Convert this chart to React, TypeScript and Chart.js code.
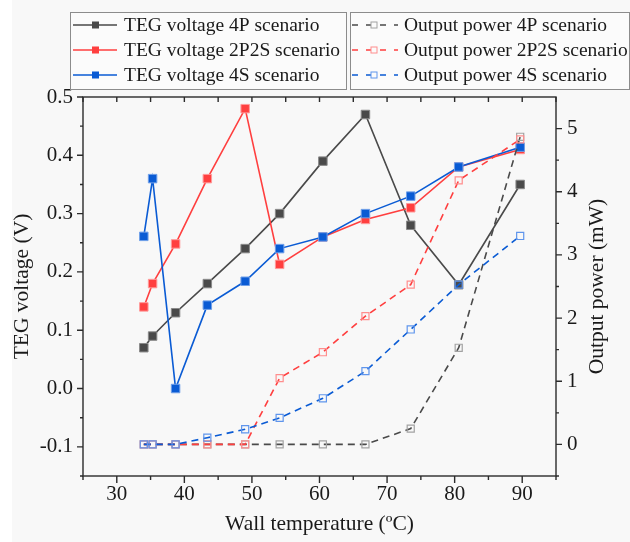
import React, { useEffect, useRef } from "react";
import { Chart, registerables } from "chart.js";

Chart.register(...registerables);

// ---- data ----
const temperatures = [34, 35.3, 38.7, 43.4, 49, 54.1, 60.5, 66.8, 73.5, 80.6, 89.7];
const voltage4P = [0.07, 0.09, 0.13, 0.18, 0.24, 0.3, 0.39, 0.47, 0.28, 0.178, 0.35];
const voltage2P2S = [0.14, 0.18, 0.248, 0.36, 0.48, 0.213, 0.26, 0.29, 0.31, 0.38, 0.41];
const voltage4S = [0.261, 0.36, 0.0, 0.143, 0.184, 0.24, 0.26, 0.3, 0.33, 0.38, 0.414];
const power4P = [0, 0, 0, 0, 0, 0, 0, 0, 0.25, 1.53, 4.87];
const power2P2S = [0, 0, 0, 0, 0, 1.05, 1.46, 2.03, 2.53, 4.18, 4.83];
const power4S = [0, 0, 0, 0.106, 0.24, 0.42, 0.73, 1.16, 1.82, 2.53, 3.3];

const xTicks = [30, 40, 50, 60, 70, 80, 90];
const voltageTicks = [-0.1, 0, 0.1, 0.2, 0.3, 0.4, 0.5];
const powerTicks = [0, 1, 2, 3, 4, 5];

const seriesNames = [
  "TEG voltage 4P scenario",
  "TEG voltage 2P2S scenario",
  "TEG voltage 4S scenario",
  "Output power 4P scenario",
  "Output power 2P2S scenario",
  "Output power 4S scenario",
];

const FONT = "'Liberation Serif', 'Times New Roman', serif";
const TEXT = "#1a1a1a";
const AXIS = "#2b2b2b";

const lineColors = ["#4a4a4a", "#ff3f3f", "#0a5bd4"];
const markerFill = ["#4a4a4a", "#ff3f3f", "#0a5bd4"];
const markerEdge = ["#8a8a8a", "#ff9a9a", "#6f9fe8"];
const openEdge = ["#a2a2a2", "#ff8e8e", "#5f95ec"];

const toPoints = (ys: number[]) => temperatures.map((t, i) => ({ x: t, y: ys[i] }));

const decorPlugin = {
  id: "decor",
  beforeDraw(chart: any) {
    const { ctx, width, height } = chart;
    ctx.save();
    ctx.fillStyle = "#ffffff";
    ctx.fillRect(0, 0, width, height);
    ctx.fillStyle = "#f8f8f8";
    ctx.fillRect(12, 0, width - 12, height);
    ctx.restore();
  },
  beforeDatasetsDraw(chart: any) {
    const { ctx, chartArea: a, scales } = chart;
    const sx = scales.x, sy = scales.y, sy1 = scales.y1;
    ctx.save();
    ctx.strokeStyle = AXIS;
    ctx.lineWidth = 1.4;
    ctx.strokeRect(a.left, a.top, a.right - a.left, a.bottom - a.top);
    ctx.beginPath();
    for (let v = 25; v <= 95; v += 5) {
      const px = sx.getPixelForValue(v);
      const major = v % 10 === 0;
      ctx.moveTo(px, a.bottom);
      ctx.lineTo(px, a.bottom + (major ? 7 : 4));
      ctx.moveTo(px, a.top);
      ctx.lineTo(px, a.top + 5);
    }
    for (let i = -3; i <= 10; i++) {
      const py = sy.getPixelForValue(i * 0.05);
      const major = i % 2 === 0;
      ctx.moveTo(a.left, py);
      ctx.lineTo(a.left - (major ? 6 : 3), py);
    }
    for (let i = -1; i <= 10; i++) {
      const py = sy1.getPixelForValue(i * 0.5);
      const major = i % 2 === 0;
      ctx.moveTo(a.right, py);
      ctx.lineTo(a.right + (major ? 6 : 3), py);
    }
    ctx.stroke();
    ctx.restore();
  },
  afterDraw(chart: any) {
    const { ctx, chartArea: a } = chart;
    ctx.save();
    // axis titles
    ctx.fillStyle = TEXT;
    ctx.font = `21.5px ${FONT}`;
    ctx.textAlign = "center";
    ctx.textBaseline = "middle";
    const cy = (a.top + a.bottom) / 2;
    ctx.save();
    ctx.translate(22, cy);
    ctx.rotate(-Math.PI / 2);
    ctx.fillText("TEG voltage (V)", 0, 0);
    ctx.restore();
    ctx.save();
    ctx.translate(597, cy);
    ctx.rotate(-Math.PI / 2);
    ctx.fillText("Output power (mW)", 0, 0);
    ctx.restore();
    ctx.fillText("Wall temperature (ºC)", (a.left + a.right) / 2, 524);

    // legend boxes
    const boxes = [
      { x: 70, w: 276 },
      { x: 350, w: 279 },
    ];
    const top = 12, h = 77;
    ctx.lineWidth = 1;
    ctx.strokeStyle = "#8c8c8c";
    boxes.forEach((b) => {
      ctx.fillStyle = "#fbfbfb";
      ctx.fillRect(b.x, top, b.w, h);
      ctx.strokeRect(b.x + 0.5, top + 0.5, b.w, h);
    });
    const rows = [25, 50, 75];
    ctx.font = `19.5px ${FONT}`;
    ctx.textAlign = "left";
    ctx.textBaseline = "middle";
    const ds = chart.data.datasets;
    for (let i = 0; i < 3; i++) {
      const y = rows[i];
      // voltage entry
      const d = ds[i];
      ctx.strokeStyle = d.borderColor;
      ctx.lineWidth = 1.6;
      ctx.setLineDash([]);
      ctx.beginPath();
      ctx.moveTo(73, y);
      ctx.lineTo(117, y);
      ctx.stroke();
      ctx.fillStyle = d.pointBackgroundColor;
      ctx.fillRect(92, y - 3.5, 7, 7);
      ctx.fillStyle = TEXT;
      ctx.fillText(seriesNames[i], 124, y + 1);
      // power entry
      const p = ds[i + 3];
      ctx.strokeStyle = p.borderColor;
      ctx.lineWidth = 1.6;
      ctx.setLineDash([6, 8]);
      ctx.beginPath();
      ctx.moveTo(352, y);
      ctx.lineTo(398, y);
      ctx.stroke();
      ctx.setLineDash([]);
      ctx.fillStyle = "#fbfbfb";
      ctx.fillRect(371, y - 3, 6, 6);
      ctx.strokeStyle = p.pointBorderColor;
      ctx.lineWidth = 1;
      ctx.strokeRect(371, y - 3, 6, 6);
      ctx.fillStyle = TEXT;
      ctx.fillText(seriesNames[i + 3], 404, y + 1);
    }
    ctx.restore();
  },
};

export default function App() {
  const canvasRef = useRef<HTMLCanvasElement | null>(null);

  useEffect(() => {
    if (!canvasRef.current) return;
    const voltageSets = [voltage4P, voltage2P2S, voltage4S].map((vals, i) => ({
      label: seriesNames[i],
      data: toPoints(vals),
      yAxisID: "y",
      borderColor: lineColors[i],
      borderWidth: 1.6,
      pointStyle: "rect",
      pointRadius: 6,
      pointBackgroundColor: markerFill[i],
      pointBorderColor: markerEdge[i],
      pointBorderWidth: 1,
      tension: 0,
      order: 5 - i,
    }));
    const powerSets = [power4P, power2P2S, power4S].map((vals, i) => ({
      label: seriesNames[i + 3],
      data: toPoints(vals),
      yAxisID: "y1",
      borderColor: lineColors[i],
      borderWidth: 1.6,
      borderDash: [7, 5],
      pointStyle: "rect",
      pointRadius: 5,
      pointBackgroundColor: "rgba(0,0,0,0)",
      pointBorderColor: openEdge[i],
      pointBorderWidth: 1.2,
      tension: 0,
      order: 2 - i,
    }));

    const chart = new Chart(canvasRef.current, {
      type: "line",
      data: { datasets: [...voltageSets, ...powerSets] as any },
      options: {
        responsive: false,
        animation: false,
        layout: { padding: { top: 97, left: 0, right: 0, bottom: 0 } },
        plugins: { legend: { display: false }, tooltip: { enabled: false } },
        scales: {
          x: {
            type: "linear",
            position: "bottom",
            min: 25,
            max: 95,
            afterBuildTicks: (s: any) => {
              s.ticks = xTicks.map((v) => ({ value: v }));
            },
            afterFit: (s: any) => {
              s.height = 66;
            },
            grid: { display: false, drawTicks: false },
            border: { display: false },
            ticks: {
              padding: 6,
              color: TEXT,
              font: { family: FONT, size: 21 },
              callback: (v: any) => String(v),
            },
          },
          y: {
            type: "linear",
            position: "left",
            min: -0.15,
            max: 0.5,
            afterBuildTicks: (s: any) => {
              s.ticks = voltageTicks.map((v) => ({ value: v }));
            },
            afterFit: (s: any) => {
              s.width = 83;
            },
            grid: { display: false, drawTicks: false },
            border: { display: false },
            ticks: {
              padding: 10,
              color: TEXT,
              font: { family: FONT, size: 21 },
              callback: (v: any) => Number(v).toFixed(1),
            },
          },
          y1: {
            type: "linear",
            position: "right",
            min: -0.5,
            max: 5.5,
            afterBuildTicks: (s: any) => {
              s.ticks = powerTicks.map((v) => ({ value: v }));
            },
            afterFit: (s: any) => {
              s.width = 74;
            },
            grid: { display: false, drawTicks: false },
            border: { display: false },
            ticks: {
              padding: 11,
              color: TEXT,
              font: { family: FONT, size: 21 },
              callback: (v: any) => String(v),
            },
          },
        },
      },
      plugins: [decorPlugin],
    });
    return () => chart.destroy();
  }, []);

  return (
    <div style={{ position: "absolute", left: 0, top: 0, width: 630, height: 542 }}>
      <canvas ref={canvasRef} width={630} height={542} />
    </div>
  );
}
